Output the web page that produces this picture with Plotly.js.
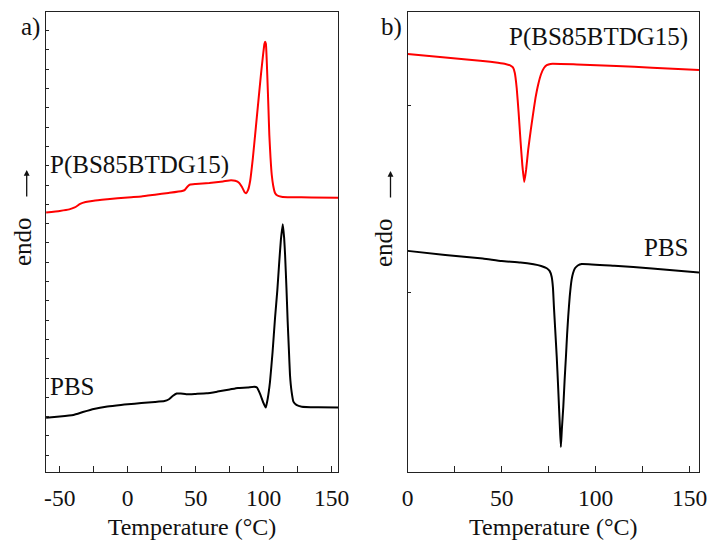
<!DOCTYPE html>
<html><head><meta charset="utf-8">
<script src="https://cdn.plot.ly/plotly-3.0.1.min.js"></script>
<style>html,body{margin:0;padding:0;background:#fff}#chart{width:710px;height:543px}</style>
</head><body><div id="chart"></div>
<script>
// Panel a) heating scans: temperature (°C) and heat flow (a.u., endo up)
const aRedT = [-60,-50,-43,-39,-35,-31,-25,-15,0,10,20,30,40,42,44,46,50,60,70,76,79,82,84,86,87,88.5,90,92,94,96,98,99.5,100.5,101,101.6,102.6,103.5,104.1,105,105.9,107,108.3,110,113,120,135,155];
const aRedHF = [12.58,12.66,12.74,12.84,13.02,13.12,13.19,13.26,13.36,13.41,13.50,13.59,13.69,13.75,13.93,14.03,14.06,14.11,14.19,14.25,14.22,14.11,13.90,13.62,13.58,13.75,14.21,15.40,16.85,18.31,19.76,20.74,21.31,21.43,21.31,19.70,17.89,16.60,15.40,14.52,13.95,13.59,13.46,13.40,13.37,13.36,13.34];
const aBlackT = [-60,-50,-40,-33,-25,-15,-5,0,10,20,27,30,33,36,39,43,50,58,66,75,81,88,93,95,97.3,99.5,101.5,103,104.6,106.5,108.3,110,111.25,112.6,114,115,115.7,116.7,117.6,118.5,119.3,120.5,121.8,124,128,140,155];
const aBlackHF = [1.95,2.01,2.09,2.24,2.40,2.53,2.61,2.64,2.71,2.76,2.81,2.89,3.07,3.20,3.20,3.16,3.18,3.21,3.30,3.41,3.49,3.51,3.55,3.51,3.18,2.76,2.47,2.97,3.81,5.35,7.11,8.56,9.86,11.16,11.97,11.26,10.38,8.67,6.92,5.46,4.16,3.28,2.78,2.61,2.52,2.49,2.47];
// Panel b) cooling scans
const bRedT = [0,20,40,48,52,54.5,56,57,58,59,60,61,62,63,64.1,65.5,66.8,68,69.5,71,72.5,74,76,90,111,130,155];
const bRedHF = [12.78,12.59,12.41,12.31,12.25,12.17,12.06,11.76,10.96,9.68,8.18,6.84,5.94,6.58,7.65,8.72,9.63,10.43,11.18,11.71,12.03,12.18,12.25,12.22,12.14,12.05,11.93];
const bBlackT = [0,20,40,50,60,67,71,74,75.5,76.6,77.3,77.8,78.5,79.3,80,80.5,81,81.5,82,82.8,83.5,84.2,84.8,85.4,86.2,87.2,88,89,90.5,92.6,110,130,155];
const bBlackHF = [2.25,2.03,1.84,1.71,1.63,1.53,1.44,1.32,1.18,0.87,0.27,-0.73,-1.98,-3.41,-4.92,-6.08,-7.22,-8.24,-7.33,-6.08,-4.65,-3.41,-2.25,-1.27,-0.21,0.70,1.07,1.32,1.47,1.55,1.45,1.31,1.10];

// Tick labels
const aTickVals = [-50, 0, 50, 100, 150];
const aTickText = ['-50', '0', '50', '100', '150'];
const bTickVals = [0, 50, 100, 150];
const bTickText = ['0', '50', '100', '150'];

const seriesNames = ['P(BS85BTDG15)', 'PBS'];
const panelLabels = ['a)', 'b)'];
const xTitle = 'Temperature (°C)';
const yTitle = 'endo';

const W = 710, H = 543;
const fx = x => x / W, fy = y => 1 - y / H;
const FONT = "'Liberation Serif', 'Times New Roman', serif";
const RED = '#ff0000', BLACK = '#000000';

const traces = [
  {x: aRedT, y: aRedHF, xaxis: 'x', yaxis: 'y', name: seriesNames[0], line: {color: RED, width: 2, shape: 'spline', smoothing: 0.4}},
  {x: aBlackT, y: aBlackHF, xaxis: 'x', yaxis: 'y', name: seriesNames[1], line: {color: BLACK, width: 2, shape: 'spline', smoothing: 0.4}},
  {x: bRedT, y: bRedHF, xaxis: 'x2', yaxis: 'y2', name: seriesNames[0], line: {color: RED, width: 2, shape: 'spline', smoothing: 0.4}},
  {x: bBlackT, y: bBlackHF, xaxis: 'x2', yaxis: 'y2', name: seriesNames[1], line: {color: BLACK, width: 2, shape: 'spline', smoothing: 0.4}}
].map(t => Object.assign({type: 'scatter', mode: 'lines', showlegend: false, hoverinfo: 'skip'}, t));

const yDom = [fy(471.5), fy(12.3)];
const axLine = {showline: true, linecolor: '#222', linewidth: 1.2, mirror: true, zeroline: false, showgrid: false};
const xCommon = Object.assign({}, axLine, {
  ticks: 'inside', ticklen: 6, tickcolor: '#222', tickwidth: 1.2, tickmode: 'array',
  minor: {tickmode: 'linear', tick0: 0, dtick: 25, ticks: 'inside', ticklen: 6, tickcolor: '#222', tickwidth: 1.2},
  ticklabelstandoff: 5,
  tickfont: {family: FONT, size: 23.5, color: '#111'},
  title: {text: xTitle, font: {family: FONT, size: 24, color: '#111'}, standoff: 8}
});

const arrowA = {x: fx(26.7), y: fy(170), ax: 0, ay: 28};
const arrowB = {x: fx(390.5), y: fy(171), ax: 0, ay: 28};

const layout = {
  width: W, height: H,
  margin: {l: 0, r: 0, t: 0, b: 0},
  paper_bgcolor: '#fff', plot_bgcolor: '#fff',
  showlegend: false,
  xaxis: Object.assign({}, xCommon, {domain: [fx(46), fx(338)], range: [-60.1, 154.6], anchor: 'y',
    tickvals: aTickVals, ticktext: aTickText}),
  yaxis: Object.assign({}, axLine, {domain: yDom, range: [-0.84, 22.95], anchor: 'x',
    ticks: 'inside', ticklen: 3, tickcolor: '#222', tickwidth: 1, dtick: 1, tick0: 0, showticklabels: false}),
  xaxis2: Object.assign({}, xCommon, {domain: [fx(407.7), fx(699)], range: [0, 155], anchor: 'y2',
    tickvals: bTickVals, ticktext: bTickText}),
  yaxis2: Object.assign({}, axLine, {domain: yDom, range: [-9.55, 15.01], anchor: 'x2',
    ticks: 'inside', ticklen: 3, tickcolor: '#222', tickwidth: 1, dtick: 10, tick0: 0, showticklabels: false}),
  annotations: [
    {text: panelLabels[0], x: fx(30), y: fy(27), xanchor: 'center', yanchor: 'middle'},
    {text: panelLabels[1], x: fx(391), y: fy(27), xanchor: 'center', yanchor: 'middle'},
    {text: yTitle, x: fx(23), y: fy(242), xanchor: 'center', yanchor: 'middle', textangle: -90},
    {text: yTitle, x: fx(384), y: fy(242), xanchor: 'center', yanchor: 'middle', textangle: -90},
    Object.assign({text: '', showarrow: true, arrowhead: 2, arrowsize: 0.9, arrowwidth: 1.3, arrowcolor: '#111', standoff: 0, startstandoff: 0}, arrowA),
    Object.assign({text: '', showarrow: true, arrowhead: 2, arrowsize: 0.9, arrowwidth: 1.3, arrowcolor: '#111', standoff: 0, startstandoff: 0}, arrowB),
    {text: seriesNames[0], x: fx(48), y: fy(165), xanchor: 'left', yanchor: 'middle'},
    {text: seriesNames[1], x: fx(48), y: fy(386), xanchor: 'left', yanchor: 'middle'},
    {text: seriesNames[0], x: fx(690), y: fy(37), xanchor: 'right', yanchor: 'middle'},
    {text: seriesNames[1], x: fx(690), y: fy(248), xanchor: 'right', yanchor: 'middle'}
  ].map(a => Object.assign({xref: 'paper', yref: 'paper', showarrow: false, font: {family: FONT, size: 25, color: '#111'}}, a))
};

Plotly.newPlot('chart', traces, layout, {displayModeBar: false, staticPlot: true});
</script>
</body></html>
